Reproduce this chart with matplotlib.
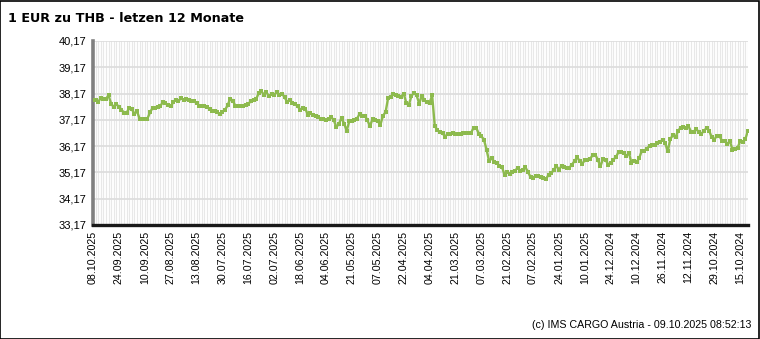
import matplotlib
matplotlib.use("Agg")
import matplotlib.pyplot as plt
from matplotlib.patches import Rectangle

title = "1 EUR zu THB - letzen 12 Monate"
footer = "(c) IMS CARGO Austria - 09.10.2025 08:52:13"

tick_labels = ["08.10.2025", "24.09.2025", "10.09.2025", "27.08.2025", "13.08.2025",
               "30.07.2025", "16.07.2025", "02.07.2025", "18.06.2025", "04.06.2025",
               "21.05.2025", "07.05.2025", "22.04.2025", "04.04.2025", "21.03.2025",
               "07.03.2025", "21.02.2025", "07.02.2025", "24.01.2025", "10.01.2025",
               "24.12.2024", "10.12.2024", "26.11.2024", "12.11.2024", "29.10.2024",
               "15.10.2024"]
tick_step = 10

y_ticks = [33.17, 34.17, 35.17, 36.17, 37.17, 38.17, 39.17, 40.17]

# EUR -> THB, newest (left) to oldest (right)
rates = [
    37.94, 37.94, 37.85, 38.00, 37.97, 37.97, 38.10, 37.79, 37.66, 37.78,
    37.66, 37.56, 37.44, 37.44, 37.63, 37.57, 37.40, 37.50, 37.21, 37.21,
    37.21, 37.21, 37.45, 37.62, 37.64, 37.66, 37.70, 37.84, 37.80, 37.75,
    37.69, 37.84, 37.92, 37.89, 37.99, 37.94, 37.96, 37.94, 37.90, 37.87,
    37.82, 37.71, 37.71, 37.70, 37.66, 37.60, 37.49, 37.49, 37.45, 37.40,
    37.47, 37.55, 37.72, 37.98, 37.90, 37.70, 37.70, 37.70, 37.70, 37.72,
    37.78, 37.88, 37.92, 37.95, 38.19, 38.26, 38.13, 38.22, 38.06, 38.17,
    38.13, 38.22, 38.13, 38.17, 38.03, 37.85, 37.92, 37.82, 37.78, 37.69,
    37.56, 37.62, 37.60, 37.36, 37.43, 37.34, 37.33, 37.28, 37.21, 37.21,
    37.15, 37.19, 37.28, 37.16, 36.89, 37.02, 37.25, 37.02, 36.76, 37.12,
    37.12, 37.16, 37.22, 37.40, 37.30, 37.33, 37.15, 36.93, 37.21, 37.15,
    37.12, 36.98, 37.33, 37.46, 38.01, 38.05, 38.17, 38.10, 38.08, 38.05,
    38.17, 37.82, 37.75, 38.08, 38.20, 38.10, 37.79, 38.08, 37.92, 37.84,
    37.82, 38.10, 36.95, 36.77, 36.71, 36.67, 36.52, 36.65, 36.65, 36.67,
    36.65, 36.65, 36.64, 36.66, 36.66, 36.67, 36.67, 36.87, 36.87, 36.65,
    36.55, 36.42, 36.04, 35.60, 35.72, 35.55, 35.53, 35.41, 35.37, 35.06,
    35.19, 35.11, 35.19, 35.22, 35.35, 35.24, 35.28, 35.37, 35.19, 35.00,
    34.94, 35.05, 35.03, 34.99, 34.96, 34.92, 35.09, 35.13, 35.28, 35.41,
    35.28, 35.41, 35.37, 35.32, 35.35, 35.47, 35.60, 35.75, 35.60, 35.50,
    35.64, 35.66, 35.69, 35.82, 35.85, 35.65, 35.40, 35.69, 35.64, 35.47,
    35.53, 35.66, 35.75, 35.95, 35.95, 35.91, 35.79, 35.91, 35.53, 35.62,
    35.57, 35.72, 36.00, 36.00, 36.08, 36.19, 36.20, 36.20, 36.29, 36.31,
    36.42, 36.29, 35.97, 36.45, 36.58, 36.50, 36.76, 36.87, 36.89, 36.87,
    36.93, 36.72, 36.72, 36.83, 36.70, 36.65, 36.74, 36.87, 36.76, 36.50,
    36.42, 36.57, 36.55, 36.36, 36.36, 36.25, 36.36, 36.04, 36.06, 36.10,
    36.38, 36.33, 36.45, 36.76,
]

n = len(rates)
xs = list(range(n))

fig = plt.figure(figsize=(7.6, 3.39), dpi=100)
fig.patch.set_facecolor("white")
ax = fig.add_axes([93 / 760, 1 - 225 / 339, (748 - 93) / 760, (225 - 41) / 339])

# vertical grid at every data point
for x in xs:
    ax.axvline(x, color="#e8e8e8", lw=0.8, zorder=0)
for y in y_ticks:
    ax.axhline(y, color="#dedede", lw=1.3, zorder=0)

ax.plot(xs, rates, color="#8dba4e", lw=1.7, marker="s", markersize=2.3,
        markeredgewidth=0, zorder=3)

ax.set_xlim(0, n - 1)
ax.set_ylim(y_ticks[0], y_ticks[-1])
ax.set_yticks(y_ticks)
ax.set_yticklabels([f"{v:.2f}".replace(".", ",") for v in y_ticks],
                   fontfamily="Liberation Sans", fontsize=8)
ax.set_xticks(list(range(0, tick_step * len(tick_labels), tick_step)))
ax.set_xticklabels(tick_labels, rotation=90, fontfamily="Liberation Sans",
                   fontsize=7.7, ha="center", va="top")
ax.tick_params(axis="both", length=0)
ax.tick_params(axis="y", pad=5)
ax.tick_params(axis="x", pad=4)

for s in ("top", "right"):
    ax.spines[s].set_visible(False)
ax.spines["left"].set_color("#808080")
ax.spines["left"].set_linewidth(2.6)
ax.spines["bottom"].set_color("#1a1a1a")
ax.spines["bottom"].set_linewidth(2.4)

fig.text(8 / 760, 1 - 18 / 339, title, fontfamily="DejaVu Sans", fontweight="bold",
         fontsize=9.2, ha="left", va="center")
fig.text(751 / 760, 1 - 325 / 339, footer, fontfamily="Liberation Sans",
         fontsize=7.7, ha="right", va="center")

fig.patches.append(Rectangle((0.0005, 0.001), 0.998, 0.997, transform=fig.transFigure,
                             fill=False, edgecolor="black", lw=1.2))

fig.savefig("out.png", dpi=100)
